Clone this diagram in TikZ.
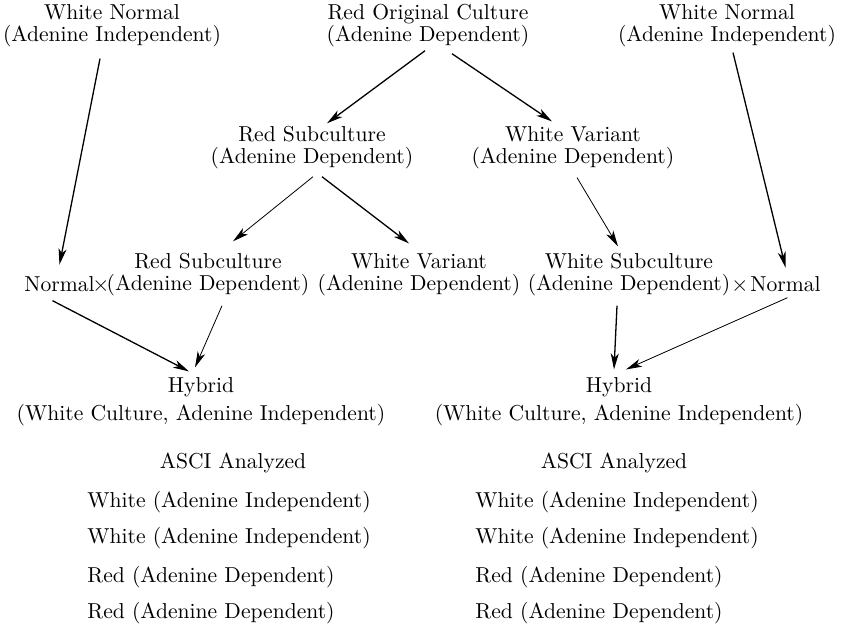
\documentclass[tikz,border=0pt]{standalone}
\usepackage{tikz}
\usetikzlibrary{arrows.meta}

\tikzset{
  lbl/.style={align=center, inner sep=0pt, font=\fontsize{10.8}{11}\selectfont},
  arr/.style={-{Stealth[length=8pt,width=4pt,inset=2.2pt]}, line width=0.65pt},
  thinarr/.style={arr, line width=0.4pt},
}

\begin{document}
\begin{tikzpicture}[x=0.5pt,y=-0.5pt]
  \useasboundingbox (0,0) rectangle (849,629);
  % parent cultures
  \node[lbl] (wnL) at (112,26) {White Normal\\(Adenine Independent)};
  \node[lbl] (roc) at (428,26) {Red Original Culture\\(Adenine Dependent)};
  \node[lbl] (wnR) at (727,26) {White Normal\\(Adenine Independent)};
  \node[lbl] (rsub) at (312,148) {Red Subculture\\(Adenine Dependent)};
  \node[lbl] (wvar) at (573,148) {White Variant\\(Adenine Dependent)};
  % crosses
  \node[lbl] (rsub2) at (208,275) {Red Subculture\\(Adenine Dependent)};
  \node[lbl, anchor=base east] (normL) at (95,291) {Normal};
  \node[lbl, anchor=base] (xL) at (101,291) {$\times$};
  \node[lbl] (wvar2) at (419,275) {White Variant\\(Adenine Dependent)};
  \node[lbl] (wsub) at (629,275) {White Subculture\\(Adenine Dependent)};
  \node[lbl, anchor=base] (xR) at (740,291) {$\times$};
  \node[lbl, anchor=base west] (normR) at (750,291) {Normal};
  \node[lbl] (hybL) at (201,402) {Hybrid\\[3pt](White Culture, Adenine Independent)};
  \node[lbl] (hybR) at (619,402) {Hybrid\\[3pt](White Culture, Adenine Independent)};
  % ASCI results
  \node[lbl] (ascL) at (233,463) {ASCI Analyzed};
  \node[lbl] (ascR) at (614,463) {ASCI Analyzed};
  \foreach \y/\txt [count=\i] in {502/White (Adenine Independent),
      538/White (Adenine Independent), 577/Red (Adenine Dependent),
      613/Red (Adenine Dependent)} {
    \node[lbl, anchor=west] (resL\i) at (87,\y) {\txt};
    \node[lbl, anchor=west] (resR\i) at (475,\y) {\txt};
  }

  \draw[arr] ([shift={(-12,11)}]wnL.south) -- ([shift={(0,-11)}]normL.north);
  \draw[arr] ([shift={(-3,3)}]roc.south) -- ([shift={(15,-3)}]rsub.north);
  \draw[arr] ([shift={(24,6)}]roc.south) -- ([shift={(-21,-5)}]wvar.north);
  \draw[arr] ([shift={(6,5)}]wnR.south) -- ([shift={(0,-8)}]normR.north);
  \draw[thinarr] ([shift={(1,7)}]rsub.south) -- ([shift={(25,-12)}]rsub2.north);
  \draw[arr] ([shift={(10,7)}]rsub.south) -- ([shift={(-10,-10)}]wvar2.north);
  \draw[thinarr] ([shift={(4,8)}]wvar.south) -- ([shift={(-11,-7)}]wsub.north);
  \draw[arr] ([shift={(-7,9)}]normL.south) -- ([shift={(-12,-6)}]hybL.north);
  \draw[thinarr] ([shift={(14,9)}]rsub2.south) -- ([shift={(-6,-10)}]hybL.north);
  \draw[arr] ([shift={(-12,9)}]wsub.south) -- ([shift={(-5,-8)}]hybR.north);
  \draw[thinarr] ([shift={(2,6)}]normR.south) -- ([shift={(7,-8)}]hybR.north);
\end{tikzpicture}
\end{document}
